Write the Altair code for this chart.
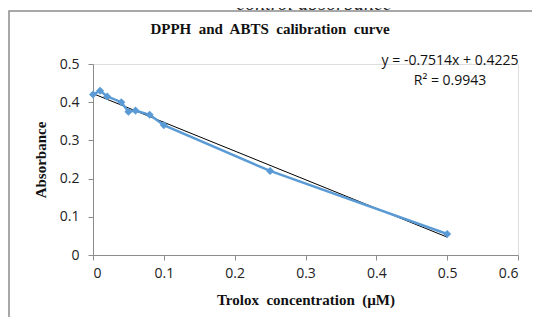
import altair as alt
import pandas as pd

trolox = [0.0, 0.01, 0.02, 0.04, 0.05, 0.06, 0.08, 0.1, 0.25, 0.5]
absorbance = [0.42, 0.43, 0.415, 0.40, 0.375, 0.378, 0.367, 0.34, 0.22, 0.055]
slope = -0.7514
intercept = 0.4225
fit_x = [0.0, 0.5]
fit_y = [intercept + slope * v for v in fit_x]
x_ticks = [0, 0.1, 0.2, 0.3, 0.4, 0.5, 0.6]
y_ticks = [0, 0.1, 0.2, 0.3, 0.4, 0.5]

df = pd.DataFrame({"x": trolox, "y": absorbance})
fit = pd.DataFrame({"x": fit_x, "y": fit_y})

serif = "Liberation Serif"
sans = "Open Sans"
NB = "\u00a0"

xs = alt.Scale(domain=[0, 0.6], nice=False)
ys = alt.Scale(domain=[0, 0.5], nice=False)

xax = alt.Axis(values=x_ticks, format="~g", title=f"Trolox{NB} concentration{NB} (µM)",
               titleFont=serif, titleFontSize=15, titleFontWeight="bold", titleColor="#111", titlePadding=12)
yax = alt.Axis(values=y_ticks, format="~g", title="Absorbance",
               titleFont=serif, titleFontSize=15, titleFontWeight="bold", titleColor="#111", titlePadding=11)

line = alt.Chart(df).mark_line(color="#5B9BD5", strokeWidth=2.5).encode(
    x=alt.X("x:Q", scale=xs, axis=xax), y=alt.Y("y:Q", scale=ys, axis=yax))
pts = alt.Chart(df).mark_point(shape="diamond", filled=True, size=65, color="#5B9BD5", opacity=1).encode(
    x=alt.X("x:Q", scale=xs, axis=xax), y=alt.Y("y:Q", scale=ys, axis=yax))
trend = alt.Chart(fit).mark_line(color="#000000", strokeWidth=1).encode(
    x=alt.X("x:Q", scale=xs, axis=xax), y=alt.Y("y:Q", scale=ys, axis=yax))

frame = alt.Chart(pd.DataFrame({"a": [0]})).mark_rect(fill=None, stroke="#8c8c8c", strokeWidth=1.5).encode(
    x=alt.value(-84), x2=alt.value(460), y=alt.value(-53), y2=alt.value(280))

eq = alt.Chart(pd.DataFrame({"t": ["y = -0.7514x + 0.4225", "R² = 0.9943"], "yy": [-3, 17]})).mark_text(
    font=sans, fontSize=14, color="#111", align="center").encode(
    text="t:N", x=alt.value(357), y=alt.Y("yy:Q", scale=None))

title = alt.Chart(pd.DataFrame({"t": [f"DPPH{NB} and{NB} ABTS{NB} calibration{NB} curve"]})).mark_text(
    font=serif, fontSize=15, fontWeight="bold", color="#111", align="center").encode(
    text="t:N", x=alt.value(177), y=alt.value(-35))

top = alt.Chart(pd.DataFrame({"t": ["control absorbance"]})).mark_text(
    font=serif, fontSize=20, fontStyle="italic", color="#222", align="center", baseline="alphabetic").encode(
    text="t:N", x=alt.value(221), y=alt.value(-54))

chart = alt.layer(frame, trend, line, pts, eq, title, top).properties(
    width=425, height=191, padding={"left": 85, "top": 56, "right": 14, "bottom": 62},
    autosize=alt.AutoSizeParams(type="none")
).configure_view(stroke=None).configure(background="white").configure_axis(
    grid=False, domainColor="#8c8c8c", tickColor="#8c8c8c", tickSize=5, labelOverlap=False,
    labelFont=sans, labelFontSize=14, labelColor="#222"
).configure_axisX(labelPadding=6).configure_axisY(labelPadding=9)

chart.save("out.html", embed_options={"renderer": "svg", "actions": False})
